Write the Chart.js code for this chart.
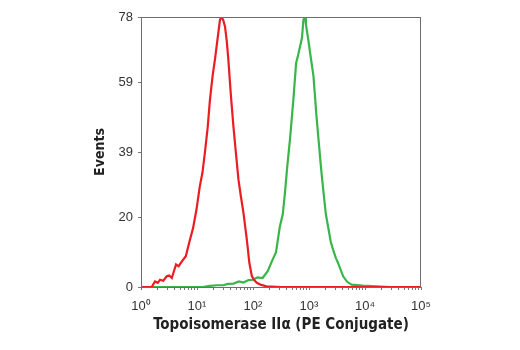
<!DOCTYPE html>
<html>
<head>
<meta charset="utf-8">
<script src="https://cdn.jsdelivr.net/npm/chart.js@4"></script>
<style>
  html, body { margin: 0; padding: 0; background: #fff; }
  canvas { display: block; }
</style>
</head>
<body>
<canvas id="grafica" width="520" height="350"></canvas>
<script>
// fluorescence intensity (x) and event counts (y)
const rojoX = [1, 1.55, 1.78, 2.0, 2.19, 2.5, 2.88, 3.2, 3.55, 4.22, 4.7, 5.37, 6.31, 7.5, 8.5, 9.77, 11.2, 12.5, 13.8, 15.5, 17, 19, 20.9, 23, 25.7, 27.5, 29.5, 31.6, 34, 36.3, 40, 44.7, 50, 55, 61, 67.6, 77.6, 86, 95.5, 105, 117, 140, 174, 316, 100000];
const rojoY = [0, 0, 1.6, 1.2, 2.1, 1.8, 3.1, 3.3, 2.6, 6.5, 6.0, 7.4, 8.9, 13.7, 17, 22.3, 29, 33, 38.7, 46, 54, 61, 65.7, 71, 77.2, 78, 77, 75.3, 71, 65.7, 56, 46.4, 38, 31, 26, 21.4, 13.7, 7, 3.1, 2.0, 1.2, 0.6, 0.2, 0, 0];

const verdeX = [1, 12.6, 17, 22.4, 29.5, 35.5, 44.7, 56.2, 67.6, 83, 100, 120, 148, 182, 224, 257, 302, 340, 372, 410, 457, 525, 589, 640, 692, 750, 794, 851, 880, 912, 980, 1047, 1202, 1350, 1479, 1650, 1820, 2000, 2239, 2450, 2692, 3000, 3311, 4074, 4800, 5754, 9120, 16218, 28184, 100000];
const verdeY = [0, 0, 0.3, 0.5, 0.5, 0.9, 1.0, 1.6, 1.3, 2.0, 2.1, 2.8, 2.6, 4.5, 7.9, 10, 17.5, 21, 27.2, 35, 42.6, 54, 64.7, 67, 69.5, 72, 77.2, 78, 76, 74.3, 71, 67.6, 60.9, 50, 42.6, 34, 27.2, 21, 16.6, 13, 10.8, 8.5, 6.9, 3.1, 1.5, 0.7, 0.4, 0.2, 0, 0];

const ticksY = [0, 20, 39, 59, 78];
const decadas = [1, 10, 100, 1000, 10000, 100000];
const etiquetasX = ['10⁰', '10¹', '10²', '10³', '10⁴', '10⁵'];

const puntos = (xs, ys) => xs.map((x, i) => ({ x: x, y: ys[i] }));

// frame round the plot area
const marco = {
  id: 'marco',
  afterDatasetsDraw(chart) {
    const { ctx, chartArea: a } = chart;
    ctx.save();
    ctx.strokeStyle = '#6d6d6d';
    ctx.lineWidth = 1;
    ctx.strokeRect(a.left + 0.5, a.top + 0.5, a.right - a.left - 1, a.bottom - a.top);
    ctx.restore();
  }
};

const familiaTitulo = "'Liberation Sans Narrow', 'DejaVu Sans Condensed', sans-serif";

new Chart(document.getElementById('grafica'), {
  type: 'line',
  data: {
    datasets: [
      {
        label: 'Control',
        data: puntos(rojoX, rojoY),
        borderColor: '#ec1c24',
        borderWidth: 2.2,
        pointRadius: 0,
        tension: 0,
        order: 1
      },
      {
        label: 'Topoisomerase IIα',
        data: puntos(verdeX, verdeY),
        borderColor: '#39b54a',
        borderWidth: 2.2,
        pointRadius: 0,
        tension: 0,
        order: 2
      }
    ]
  },
  options: {
    responsive: false,
    animation: false,
    layout: { padding: { left: 86, top: 17, right: 99, bottom: 16 } },
    plugins: { legend: { display: false }, tooltip: { enabled: false } },
    scales: {
      x: {
        type: 'logarithmic',
        min: 1,
        max: 100000,
        afterBuildTicks: (escala) => {
          const t = [];
          decadas.forEach((d, i) => {
            if (i < decadas.length - 1) {
              for (let k = 1; k < 10; k++) t.push({ value: d * k });
            } else {
              t.push({ value: d });
            }
          });
          escala.ticks = t;
        },
        afterFit: (escala) => { escala.height = 47; },
        grid: { drawOnChartArea: false, tickLength: 3, color: '#777' },
        border: { display: false },
        ticks: {
          autoSkip: false,
          maxRotation: 0,
          padding: 9,
          color: '#333',
          font: { family: "'Liberation Sans', Arial, sans-serif", size: 13 },
          callback: (v) => {
            const i = decadas.indexOf(v);
            return i >= 0 ? etiquetasX[i] : '';
          }
        },
        title: {
          display: true,
          text: 'Topoisomerase IIα (PE Conjugate)',
          color: '#222',
          font: { family: familiaTitulo, size: 15, weight: 'bold' },
          padding: { top: 0, bottom: 0 }
        }
      },
      y: {
        min: 0,
        max: 78,
        afterBuildTicks: (escala) => { escala.ticks = ticksY.map(v => ({ value: v })); },
        afterFit: (escala) => { escala.width = 55; },
        grid: { drawOnChartArea: false, tickLength: 3, color: '#777' },
        border: { display: false },
        ticks: {
          padding: 5,
          color: '#333',
          font: { family: "'Liberation Sans', Arial, sans-serif", size: 13 }
        },
        title: {
          display: true,
          text: 'Events',
          color: '#222',
          font: { family: familiaTitulo, size: 14, weight: 'bold' },
          padding: { top: 6, bottom: 0 }
        }
      }
    }
  },
  plugins: [marco]
});
</script>
</body>
</html>
